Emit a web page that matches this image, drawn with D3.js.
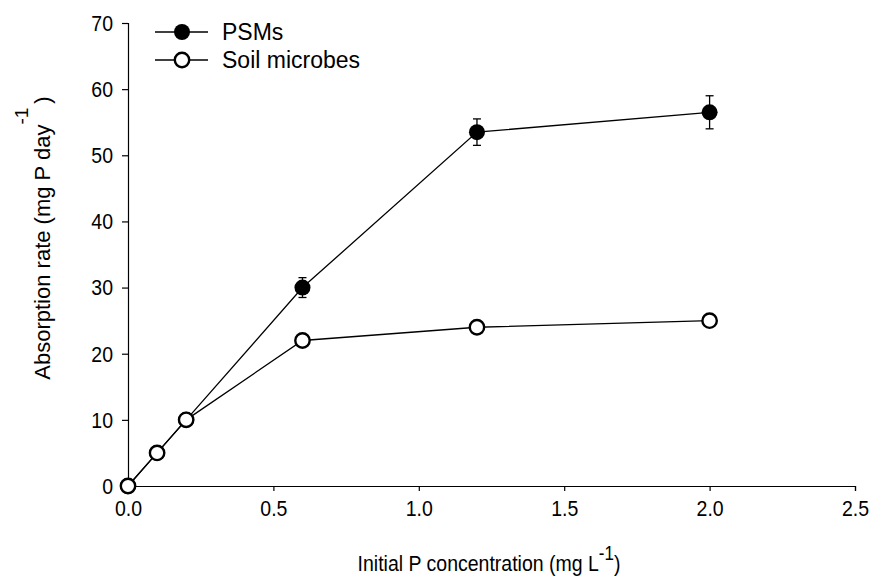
<!DOCTYPE html>
<html><head><meta charset="utf-8">
<script src="https://cdn.jsdelivr.net/npm/d3@7"></script>
<style>body{margin:0;background:#fff}svg{display:block}text{font-family:"Liberation Sans",Arial,sans-serif;fill:#000}
.st{transform-box:fill-box;transform-origin:center;transform:scaleY(1.15)}</style>
</head><body><svg id="c" width="873" height="577"></svg>
<script>
const xPSM = [0, 0.1, 0.2, 0.6, 1.2, 2.0];
const yPSM = [0, 5, 10, 30, 53.5, 56.5];
const errPSM = [0, 0, 0, 1.5, 2.0, 2.5];
const xSoil = [0, 0.1, 0.2, 0.6, 1.2, 2.0];
const ySoil = [0, 5, 10, 22, 24, 25];
const xTicks = [0, 0.5, 1.0, 1.5, 2.0, 2.5];
const yTicks = [0, 10, 20, 30, 40, 50, 60, 70];
const seriesNames = ["PSMs", "Soil microbes"];

const svg = d3.select("#c");
const x = d3.scaleLinear().domain([0, 2.5]).range([128, 855]);
const y = d3.scaleLinear().domain([0, 70]).range([486, 23]);

const xa = svg.append("g").attr("transform","translate(0,486)")
  .call(d3.axisBottom(x).tickValues(xTicks).tickFormat(d3.format(".1f")).tickSizeOuter(0).tickSize(5).tickPadding(10));
const ya = svg.append("g").attr("transform","translate(128,0)")
  .call(d3.axisLeft(y).tickValues(yTicks).tickFormat(d3.format("d")).tickSizeOuter(0).tickSize(6).tickPadding(9));
[xa, ya].forEach(a => {
  a.selectAll("path,line").attr("stroke","#000").attr("stroke-width",1.2);
  a.selectAll("text").attr("font-size",19.5).attr("class","st").attr("font-family","'Liberation Sans',Arial,sans-serif");
});

const line = d3.line().x(d => x(d[0])).y(d => y(d[1]));
const psm = xPSM.map((v,i) => [v, yPSM[i], errPSM[i]]);
const soil = xSoil.map((v,i) => [v, ySoil[i]]);

svg.append("path").datum(psm).attr("d", line).attr("fill","none").attr("stroke","#000").attr("stroke-width",1.3);
svg.append("path").datum(soil).attr("d", line).attr("fill","none").attr("stroke","#000").attr("stroke-width",1.3);

const eb = svg.append("g").attr("stroke","#000").attr("stroke-width",1.3);
psm.filter(d => d[2] > 0).forEach(d => {
  eb.append("line").attr("x1", x(d[0])).attr("x2", x(d[0])).attr("y1", y(d[1]-d[2])).attr("y2", y(d[1]+d[2]));
  [d[1]-d[2], d[1]+d[2]].forEach(v => eb.append("line").attr("x1", x(d[0])-4).attr("x2", x(d[0])+4).attr("y1", y(v)).attr("y2", y(v)));
});

svg.append("g").selectAll("circle").data(psm).join("circle")
  .attr("cx", d => x(d[0])).attr("cy", d => y(d[1])).attr("r", 8).attr("fill","#000");
svg.append("g").selectAll("circle").data(soil).join("circle")
  .attr("cx", d => x(d[0])).attr("cy", d => y(d[1])).attr("r", 7.2).attr("fill","#fff").attr("stroke","#000").attr("stroke-width",2.4);

const lg = svg.append("g");
[0,1].forEach(i => {
  const ly = 32 + i*28;
  lg.append("line").attr("x1",155).attr("x2",208).attr("y1",ly).attr("y2",ly).attr("stroke","#000").attr("stroke-width",1.3);
  if (i === 0) lg.append("circle").attr("cx",182).attr("cy",ly).attr("r",8).attr("fill","#000");
  else lg.append("circle").attr("cx",182).attr("cy",ly).attr("r",7.2).attr("fill","#fff").attr("stroke","#000").attr("stroke-width",2.4);
  lg.append("text").attr("x",222).attr("y",ly+8).attr("font-size",23).text(seriesNames[i]);
});

const xt = svg.append("text").attr("class","st").attr("x",489).attr("y",569).attr("text-anchor","middle").attr("font-size",19.5);
xt.append("tspan").text("Initial P concentration (mg L");
xt.append("tspan").attr("dy",-9).attr("font-size",17).text("-1");
xt.append("tspan").attr("dy",9).text(")");

const yt = svg.append("text").attr("transform","translate(50,238) rotate(-90)").attr("text-anchor","middle").attr("font-size",22);
yt.append("tspan").text("Absorption rate (mg P day");
yt.append("tspan").attr("dy",-22).attr("font-size",19).text("-1");
yt.append("tspan").attr("dy",22).attr("dx",4).text(")");
</script></body></html>
